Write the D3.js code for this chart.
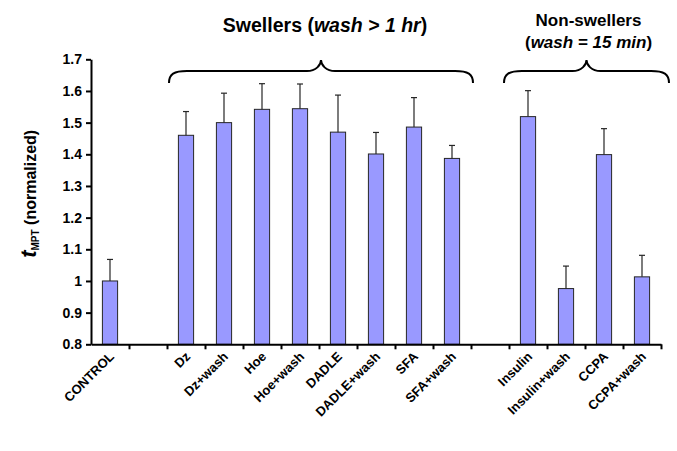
<!DOCTYPE html>
<html>
<head>
<meta charset="utf-8">
<script src="https://cdn.jsdelivr.net/npm/d3@7"></script>
<style>
  html, body { margin: 0; padding: 0; background: #fff; }
  svg { display: block; }
  text { font-family: Arial, "Liberation Sans", sans-serif; font-weight: bold; fill: #000; }
</style>
</head>
<body>
<svg id="chart" width="677" height="451"></svg>
<script>
// Treatments along the x axis (empty strings are spacer slots between groups)
const categories = ["CONTROL", "", "Dz", "Dz+wash", "Hoe", "Hoe+wash", "DADLE", "DADLE+wash",
                    "SFA", "SFA+wash", "", "Insulin", "Insulin+wash", "CCPA", "CCPA+wash"];
// Normalized t_MPT per treatment
const values = [1.00, null, 1.46, 1.50, 1.542, 1.544, 1.47, 1.401,
                1.486, 1.387, null, 1.519, 0.976, 1.399, 1.013];
// Upper error (SD) per treatment
const errors = [0.068, null, 0.075, 0.093, 0.081, 0.078, 0.117, 0.068,
                0.093, 0.041, null, 0.082, 0.071, 0.082, 0.068];
// Y axis ticks
const yTicks = [0.8, 0.9, 1.0, 1.1, 1.2, 1.3, 1.4, 1.5, 1.6, 1.7];
const yTickLabels = ["0.8", "0.9", "1", "1.1", "1.2", "1.3", "1.4", "1.5", "1.6", "1.7"];
// Bracketed treatment groups: first and last category index
const groupFirst = [2, 11];
const groupLast = [9, 14];

const svg = d3.select("#chart");
const plotLeft = 91, plotRight = 661, plotTop = 59.3, plotBottom = 344.3;

const x = d3.scaleBand().domain(d3.range(categories.length)).range([plotLeft, plotRight])
  .paddingInner(0.6).paddingOuter(0.3);
const y = d3.scaleLinear().domain([0.8, 1.7]).range([plotBottom, plotTop]);

// Bars
const bars = svg.append("g");
categories.forEach((c, i) => {
  if (values[i] == null) return;
  bars.append("rect")
    .attr("x", x(i)).attr("y", y(values[i]))
    .attr("width", x.bandwidth()).attr("height", y(0.8) - y(values[i]))
    .attr("fill", "#9999ff").attr("stroke", "#262626").attr("stroke-width", 1);
});

// Error bars (upper only)
const errG = svg.append("g").attr("stroke", "#262626").attr("stroke-width", 1.2);
categories.forEach((c, i) => {
  if (values[i] == null) return;
  const cx = x(i) + x.bandwidth() / 2;
  errG.append("line").attr("x1", cx).attr("x2", cx)
    .attr("y1", y(values[i])).attr("y2", y(values[i] + errors[i]));
  errG.append("line").attr("x1", cx - 3).attr("x2", cx + 3)
    .attr("y1", y(values[i] + errors[i])).attr("y2", y(values[i] + errors[i]));
});

// Y axis
const yAxis = d3.axisLeft(y).tickValues(yTicks).tickSize(5).tickSizeOuter(0)
  .tickFormat((d, i) => yTickLabels[i]);
const yg = svg.append("g").attr("transform", `translate(${plotLeft},0)`).call(yAxis);
yg.select(".domain").attr("stroke", "#000").attr("stroke-width", 2);
yg.selectAll(".tick line").attr("stroke", "#000").attr("stroke-width", 2);
yg.selectAll(".tick text").attr("x", -9).attr("font-size", 14)
  .attr("font-family", "Arial, 'Liberation Sans', sans-serif").attr("font-weight", "bold").attr("fill", "#000");

// X axis: line with ticks on category boundaries
const bounds = d3.scaleLinear().domain([0, categories.length]).range([plotLeft, plotRight]);
const xAxis = d3.axisBottom(bounds).tickValues(d3.range(1, categories.length + 1))
  .tickSize(5).tickSizeOuter(0).tickFormat("");
const xg = svg.append("g").attr("transform", `translate(0,${plotBottom})`).call(xAxis);
xg.select(".domain").attr("stroke", "#000").attr("stroke-width", 2);
xg.selectAll(".tick line").attr("stroke", "#000").attr("stroke-width", 2);

// Category labels: the whole group is turned 45 degrees, and each anchor point
// (just below its bar) is expressed in that turned frame.
const k = Math.SQRT1_2;
const labelAnchor = i => [x(i) + x.bandwidth() / 2 + 5, plotBottom + 13];
svg.append("g").attr("transform", "rotate(-45)")
  .selectAll("text").data(categories).join("text")
  .attr("x", (d, i) => { const [X, Y] = labelAnchor(i); return k * (X - Y); })
  .attr("y", (d, i) => { const [X, Y] = labelAnchor(i); return k * (X + Y); })
  .attr("text-anchor", "end").attr("font-size", 13)
  .text(d => d);

// Y axis title
const yt = svg.append("text")
  .attr("transform", `translate(36,${(plotTop + plotBottom) / 2 - 8}) rotate(-90)`)
  .attr("text-anchor", "middle");
yt.append("tspan").attr("font-size", 22).attr("font-style", "italic").text("t");
yt.append("tspan").attr("font-size", 10).attr("dy", 3).text("MPT");
yt.append("tspan").attr("font-size", 16).attr("dy", -3).text(" (normalized)");

// Group braces
const braceOffsets = [[2, 2], [-5, 8]];
function bracePath(x0, x1, xm, yEnd, yLine, yTip) {
  const r = 18, rt = 14;
  return `M${x0},${yEnd} C${x0},${yLine + 3} ${x0 + 5},${yLine} ${x0 + r},${yLine}` +
    ` L${xm - rt},${yLine} C${xm - 5},${yLine} ${xm},${yTip + 5} ${xm},${yTip}` +
    ` C${xm},${yTip + 5} ${xm + 5},${yLine} ${xm + rt},${yLine}` +
    ` L${x1 - r},${yLine} C${x1 - 5},${yLine} ${x1},${yLine + 3} ${x1},${yEnd}`;
}
const braceCenters = [];
groupFirst.forEach((g0, j) => {
  const x0 = bounds(g0) + braceOffsets[j][0];
  const x1 = bounds(groupLast[j] + 1) + braceOffsets[j][1];
  const xm = (x0 + x1) / 2;
  braceCenters.push(xm);
  svg.append("path").attr("d", bracePath(x0, x1, xm, 83, 71, 60))
    .attr("fill", "none").attr("stroke", "#000").attr("stroke-width", 2);
});

// Group titles
const t1 = svg.append("text").attr("x", braceCenters[0] + 4).attr("y", 32)
  .attr("text-anchor", "middle").attr("font-size", 19.5);
t1.append("tspan").text("Swellers (");
t1.append("tspan").attr("font-style", "italic").text("wash > 1 hr");
t1.append("tspan").text(")");

const t2 = svg.append("text").attr("x", braceCenters[1] + 2).attr("y", 26)
  .attr("text-anchor", "middle").attr("font-size", 17).text("Non-swellers");
const t3 = svg.append("text").attr("x", braceCenters[1] + 2).attr("y", 48)
  .attr("text-anchor", "middle").attr("font-size", 17);
t3.append("tspan").text("(");
t3.append("tspan").attr("font-style", "italic").text("wash = 15 min");
t3.append("tspan").text(")");
</script>
</body>
</html>
